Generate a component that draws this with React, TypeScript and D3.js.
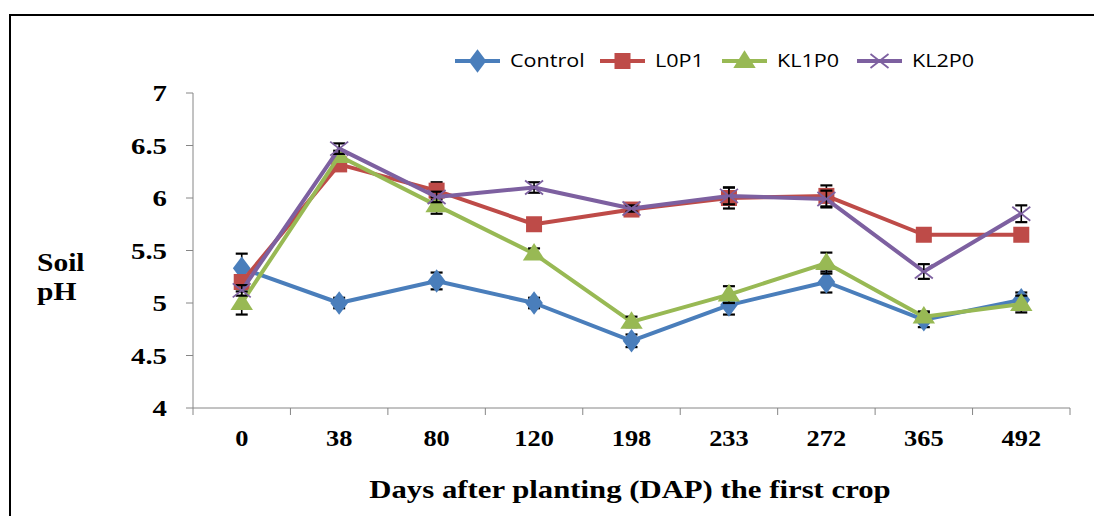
import React from "react";
import * as d3 from "d3";

const categories = ["0", "38", "80", "120", "198", "233", "272", "365", "492"];
const seriesNames = ["Control", "L0P1", "KL1P0", "KL2P0"];
const controlValues = [5.33, 5.0, 5.21, 5.0, 4.64, 4.98, 5.2, 4.84, 5.03];
const controlErr = [0.14, 0.05, 0.08, 0.05, 0.06, 0.09, 0.1, 0.07, 0.07];
const l0p1Values = [5.2, 6.32, 6.07, 5.75, 5.89, 6.0, 6.02, 5.65, 5.65];
const l0p1Err = [0.05, 0.05, 0.08, 0, 0, 0.1, 0.1, 0, 0];
const kl1p0Values = [5.0, 6.4, 5.93, 5.47, 4.82, 5.08, 5.38, 4.87, 4.99];
const kl1p0Err = [0.11, 0.05, 0.08, 0.05, 0.05, 0.08, 0.1, 0.05, 0.08];
const kl2p0Values = [5.12, 6.47, 6.01, 6.1, 5.9, 6.02, 5.99, 5.3, 5.85];
const kl2p0Err = [0.05, 0.05, 0.05, 0.05, 0.03, 0.08, 0.08, 0.07, 0.08];
const yTicks = [4, 4.5, 5, 5.5, 6, 6.5, 7];

const colors = ["#4A7EBB", "#BE4B48", "#98B954", "#7D60A0"];
const symbols = ["diamond", "square", "triangle", "x"];

const series = seriesNames.map((name, i) => ({
  name,
  values: [controlValues, l0p1Values, kl1p0Values, kl2p0Values][i],
  errs: [controlErr, l0p1Err, kl1p0Err, kl2p0Err][i],
  color: colors[i],
  symbol: symbols[i],
}));

const X0 = 193;
const X1 = 1070;
const Y0 = 408;
const Y1 = 93;

const x = d3.scaleBand<string>().domain(categories).range([X0, X1]);
const y = d3.scaleLinear().domain([4, 7]).range([Y0, Y1]);

const serif = "'Liberation Serif', 'Times New Roman', serif";
const sans = "'Open Sans', 'Liberation Sans', sans-serif";

function SText({
  x,
  y,
  sx = 1.2,
  anchor = "start",
  size,
  bold = true,
  family = serif,
  children,
}: any) {
  return (
    <text
      transform={`translate(${x},${y}) scale(${sx},1)`}
      textAnchor={anchor}
      fontFamily={family}
      fontWeight={bold ? "bold" : "normal"}
      fontSize={size}
    >
      {children}
    </text>
  );
}

function Marker({ kind, cx, cy, color }: { kind: string; cx: number; cy: number; color: string }) {
  if (kind === "diamond") {
    const p = d3.symbol(d3.symbolDiamond, 160)();
    return <path d={p!} transform={`translate(${cx},${cy}) scale(1.3,1)`} fill={color} />;
  }
  if (kind === "square") {
    return <rect x={cx - 8} y={cy - 8} width={16} height={16} fill={color} />;
  }
  if (kind === "triangle") {
    const p = d3.symbol(d3.symbolTriangle, 180)();
    return <path d={p!} transform={`translate(${cx},${cy + 1}) scale(1.1,1)`} fill={color} />;
  }
  return (
    <g stroke={color} strokeWidth={1.8}>
      <line x1={cx - 9} y1={cy - 7} x2={cx + 9} y2={cy + 7} />
      <line x1={cx - 9} y1={cy + 7} x2={cx + 9} y2={cy - 7} />
    </g>
  );
}

export default function App() {
  const line = d3
    .line<number>()
    .x((_, i) => (x(categories[i]) as number) + x.bandwidth() / 2)
    .y((d) => y(d));
  const cxOf = (i: number) => (x(categories[i]) as number) + x.bandwidth() / 2;
  const legendX = [455, 600, 722, 857];
  return (
    <svg
      width={1094}
      height={516}
      style={{ position: "absolute", left: 0, top: 0, background: "#fff" }}
    >
      <rect x={10} y={15} width={1200} height={600} fill="#fff" stroke="#000" strokeWidth={2} />
      {/* y axis */}
      <line x1={X0} y1={Y1} x2={X0} y2={Y0} stroke="#868686" strokeWidth={1} />
      {yTicks.map((t) => (
        <g key={t}>
          <line x1={X0 - 7} x2={X0} y1={y(t)} y2={y(t)} stroke="#868686" />
          <SText x={167} y={y(t) + 8} anchor="end" size={24} sx={1.2}>
            {t}
          </SText>
        </g>
      ))}
      {/* x axis */}
      <line x1={X0} y1={Y0} x2={X1} y2={Y0} stroke="#868686" strokeWidth={1} />
      {categories.map((c, i) => (
        <g key={c}>
          <line
            x1={x(c) as number}
            x2={x(c) as number}
            y1={Y0}
            y2={Y0 + 7}
            stroke="#868686"
          />
          <SText x={cxOf(i)} y={446} anchor="middle" size={24} sx={1.1}>
            {c}
          </SText>
        </g>
      ))}
      <line x1={X1} x2={X1} y1={Y0} y2={Y0 + 7} stroke="#868686" />
      {/* titles */}
      <SText x={37} y={271} size={25} sx={1.18}>
        Soil
      </SText>
      <SText x={37} y={300} size={25} sx={1.18}>
        pH
      </SText>
      <SText x={630} y={498} anchor="middle" size={25} sx={1.23}>
        Days after planting (DAP) the first crop
      </SText>
      {/* series */}
      {series.map((s) => (
        <g key={s.name}>
          <path d={line(s.values)!} fill="none" stroke={s.color} strokeWidth={4} strokeLinejoin="round" />
          {s.values.map((v, i) =>
            s.errs[i] > 0 ? (
              <g key={"e" + i} stroke="#000" strokeWidth={1.6}>
                <line x1={cxOf(i)} x2={cxOf(i)} y1={y(v - s.errs[i])} y2={y(v + s.errs[i])} />
                <line x1={cxOf(i) - 6} x2={cxOf(i) + 6} y1={y(v + s.errs[i])} y2={y(v + s.errs[i])} strokeWidth={2.2} />
                <line x1={cxOf(i) - 6} x2={cxOf(i) + 6} y1={y(v - s.errs[i])} y2={y(v - s.errs[i])} strokeWidth={2.2} />
              </g>
            ) : null
          )}
          {s.values.map((v, i) => (
            <Marker key={"m" + i} kind={s.symbol} cx={cxOf(i)} cy={y(v)} color={s.color} />
          ))}
        </g>
      ))}
      {/* legend */}
      {series.map((s, i) => (
        <g key={"lg" + s.name}>
          <line x1={legendX[i]} x2={legendX[i] + 45} y1={61} y2={61} stroke={s.color} strokeWidth={4} />
          <Marker kind={s.symbol} cx={legendX[i] + 22.5} cy={61} color={s.color} />
          <SText x={legendX[i] + 55} y={67} size={18} sx={1.2} bold={false} family={sans}>
            {s.name}
          </SText>
        </g>
      ))}
    </svg>
  );
}
